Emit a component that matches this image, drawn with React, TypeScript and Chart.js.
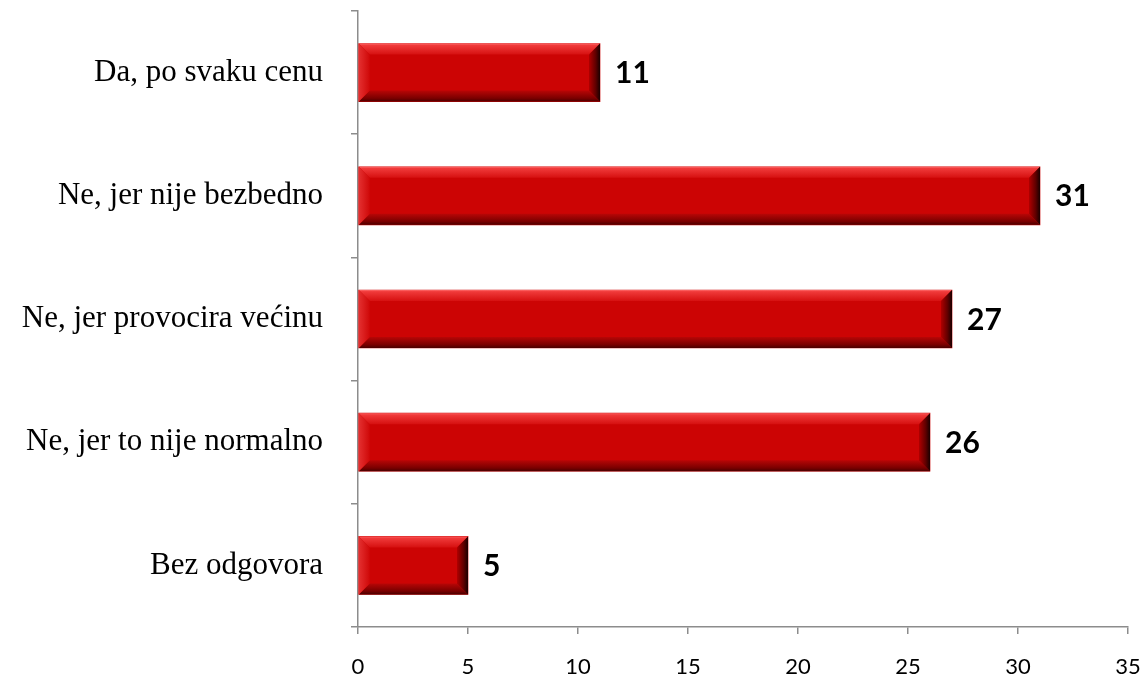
import React, { useEffect, useRef } from "react";
import { Chart, registerables } from "chart.js";

Chart.register(...registerables);

const categories = [
  "Da, po svaku cenu",
  "Ne, jer nije bezbedno",
  "Ne, jer provocira većinu",
  "Ne, jer to nije normalno",
  "Bez odgovora",
];
const values = [11, 31, 27, 26, 5];
const xTicks = [0, 5, 10, 15, 20, 25, 30, 35];

const bevelPlugin = {
  id: "bevel",
  afterDatasetsDraw(chart: any) {
    const ctx = chart.ctx as CanvasRenderingContext2D;
    const meta = chart.getDatasetMeta(0);
    meta.data.forEach((bar: any, i: number) => {
      const p = bar.getProps(["x", "y", "base", "height"], true);
      const L = Math.min(p.base, p.x);
      const R = Math.max(p.base, p.x);
      const T = p.y - p.height / 2;
      const B = p.y + p.height / 2;
      const b = Math.min(11, (R - L) / 3);
      ctx.save();
      // top band
      let g = ctx.createLinearGradient(0, T, 0, T + b);
      g.addColorStop(0, "#ff6a6a");
      g.addColorStop(0.15, "#f03a3a");
      g.addColorStop(1, "#d61010");
      ctx.fillStyle = g;
      ctx.beginPath();
      ctx.moveTo(L, T);
      ctx.lineTo(R, T);
      ctx.lineTo(R - b, T + b);
      ctx.lineTo(L + b, T + b);
      ctx.closePath();
      ctx.fill();
      // bottom band
      g = ctx.createLinearGradient(0, B - b, 0, B);
      g.addColorStop(0, "#b80606");
      g.addColorStop(0.7, "#7a0000");
      g.addColorStop(1, "#4a0000");
      ctx.fillStyle = g;
      ctx.beginPath();
      ctx.moveTo(L, B);
      ctx.lineTo(R, B);
      ctx.lineTo(R - b, B - b);
      ctx.lineTo(L + b, B - b);
      ctx.closePath();
      ctx.fill();
      // left band
      g = ctx.createLinearGradient(L, 0, L + b, 0);
      g.addColorStop(0, "#e43030");
      g.addColorStop(1, "#cf0808");
      ctx.fillStyle = g;
      ctx.beginPath();
      ctx.moveTo(L, T);
      ctx.lineTo(L + b, T + b);
      ctx.lineTo(L + b, B - b);
      ctx.lineTo(L, B);
      ctx.closePath();
      ctx.fill();
      // right band
      g = ctx.createLinearGradient(R - b, 0, R, 0);
      g.addColorStop(0, "#b00000");
      g.addColorStop(0.6, "#600000");
      g.addColorStop(1, "#1a0000");
      ctx.fillStyle = g;
      ctx.beginPath();
      ctx.moveTo(R, T);
      ctx.lineTo(R, B);
      ctx.lineTo(R - b, B - b);
      ctx.lineTo(R - b, T + b);
      ctx.closePath();
      ctx.fill();
      // label
      ctx.fillStyle = "#000";
      ctx.font = "bold 30px Lato";
      ctx.textAlign = "left";
      ctx.textBaseline = "middle";
      ctx.fillText(String(values[i]), R + 15, p.y + 1);
      ctx.restore();
    });
  },
};

const zeroPad = (s: any) => {
  s.paddingTop = 0;
  s.paddingBottom = 0;
  s.paddingLeft = 0;
  s.paddingRight = 0;
};

export default function App() {
  const ref = useRef<HTMLCanvasElement>(null);
  useEffect(() => {
    const chart = new Chart(ref.current!, {
      type: "bar",
      data: {
        labels: categories,
        datasets: [
          {
            data: values,
            backgroundColor: "#cc0404",
            borderWidth: 0,
            barThickness: 58,
          },
        ],
      },
      plugins: [bevelPlugin],
      options: {
        indexAxis: "y",
        animation: false,
        responsive: false,
        maintainAspectRatio: false,
        layout: { padding: { top: 11, right: 14, left: 0, bottom: 0 } },
        plugins: {
          legend: { display: false },
          tooltip: { enabled: false },
        },
        scales: {
          x: {
            type: "linear",
            min: 0,
            max: 35,
            afterBuildTicks: (s: any) => {
              s.ticks = xTicks.map((v) => ({ value: v }));
            },
            afterFit: (s: any) => {
              s.height = 48;
              zeroPad(s);
            },
            grid: {
              drawOnChartArea: false,
              tickLength: 7,
              color: "#8c8c8c",
              lineWidth: 1.5,
            },
            border: { color: "#8c8c8c", width: 1.5 },
            ticks: {
              color: "#000",
              font: { family: "Lato", size: 22 },
              padding: 20,
              maxRotation: 0,
            },
          },
          y: {
            type: "category",
            afterFit: (s: any) => {
              s.width = 358;
              zeroPad(s);
            },
            grid: {
              drawOnChartArea: false,
              offset: true,
              tickLength: 7,
              color: "#8c8c8c",
              lineWidth: 1.5,
            },
            border: { color: "#8c8c8c", width: 1.5 },
            ticks: {
              color: "#000",
              font: { family: "Liberation Serif", size: 31 },
              padding: 28,
            },
          },
        },
      },
    });
    return () => chart.destroy();
  }, []);
  return (
    <div style={{ position: "fixed", left: 0, top: 0, width: 1142, height: 675, background: "#fff" }}>
      <canvas ref={ref} width={1142} height={675} style={{ display: "block" }} />
    </div>
  );
}
